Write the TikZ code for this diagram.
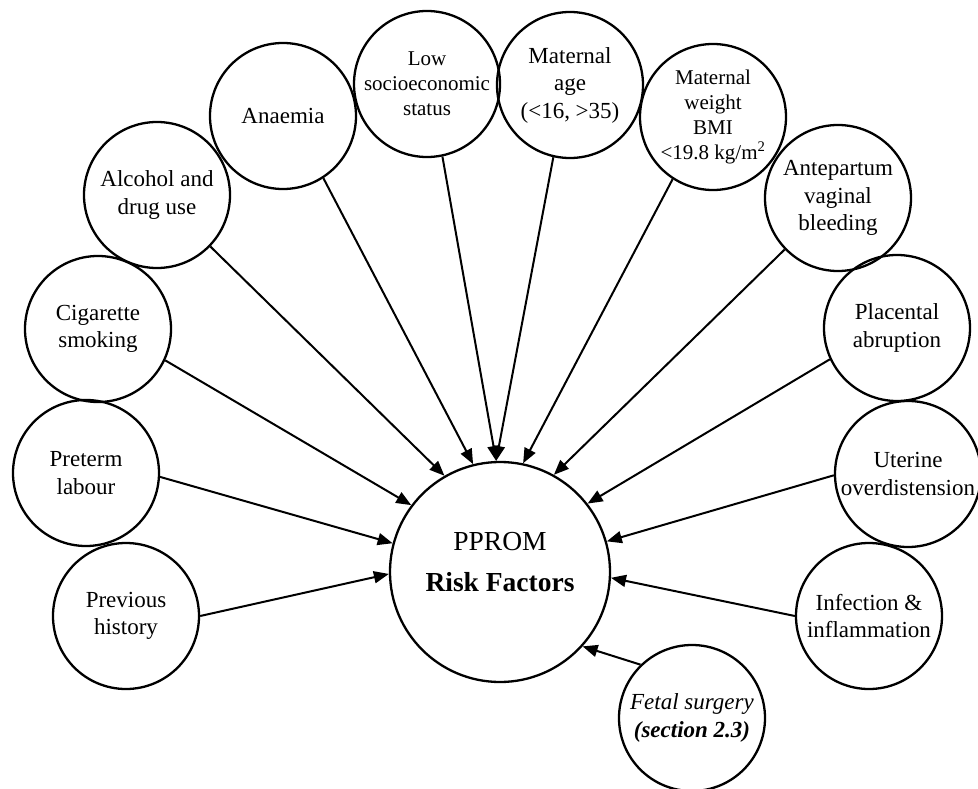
\documentclass[tikz,border=0pt]{standalone}
\usepackage{fontspec}
\setmainfont{Liberation Serif}
\usetikzlibrary{arrows.meta}

\tikzset{
  factor/.style={circle, draw, line width=2.3pt, minimum size=146pt, inner sep=0pt,
    align=center, font=\fontsize{23}{27.5}\selectfont},
  arr/.style={line width=2pt, -{Triangle[length=15pt,width=12pt]}}
}

\begin{document}
\begin{tikzpicture}[x=1pt,y=-1pt]
\useasboundingbox (0,0) rectangle (978,789);

\node[circle, draw, line width=2.3pt, minimum size=220pt, inner sep=0pt] (risk) at (500,572) {};
\node[align=center, font=\fontsize{27.5}{41}\selectfont] (risklbl) at (500,562) {PPROM\\\textbf{Risk Factors}};

\node[factor] (previous) at (126,616) {Previous\\history};
\node[factor] (preterm) at (86,473) {Preterm\\labour};
\node[factor] (cigarette) at (98,329) {Cigarette\\smoking};
\node[factor] (alcohol) at (157,195) {Alcohol and\\drug use};
\node[factor] (anaemia) at (283,116) {Anaemia};
\node[factor, font=\fontsize{21}{25}\selectfont] (lowses) at (427,84) {Low\\socioeconomic\\status};
\node[factor] (matage) at (570,85) {Maternal\\age\\(<16, >35)};
\node[factor, font=\fontsize{21}{25}\selectfont] (matweight) at (713,117) {Maternal\\weight\\BMI\\{<}19.8 kg/m\textsuperscript{2}};
\node[factor] (antepartum) at (838,198) {Antepartum\\vaginal\\bleeding};
\node[factor] (placental) at (897,328) {Placental\\abruption};
\node[factor] (uterine) at (908,474) {Uterine\\overdistension};
\node[factor] (infection) at (869,616) {Infection \&\\inflammation};
\node[factor] (fetal) at (692,718) {\textit{Fetal surgery}\\\textbf{\textit{(section 2.3)}}};

\foreach \f/\sa/\ea in {previous/0/181, preterm/-3/165, cigarette/-25/143,
    alcohol/-44/120, anaemia/-57/104, lowses/-78/92, matage/-103/92,
    matweight/-123/78, antepartum/-136/61, placental/-155/38,
    uterine/181/16, infection/180/-3, fetal/134/-42}
  \draw[arr] (\f.\sa) -- (risk.\ea);
\end{tikzpicture}
\end{document}
